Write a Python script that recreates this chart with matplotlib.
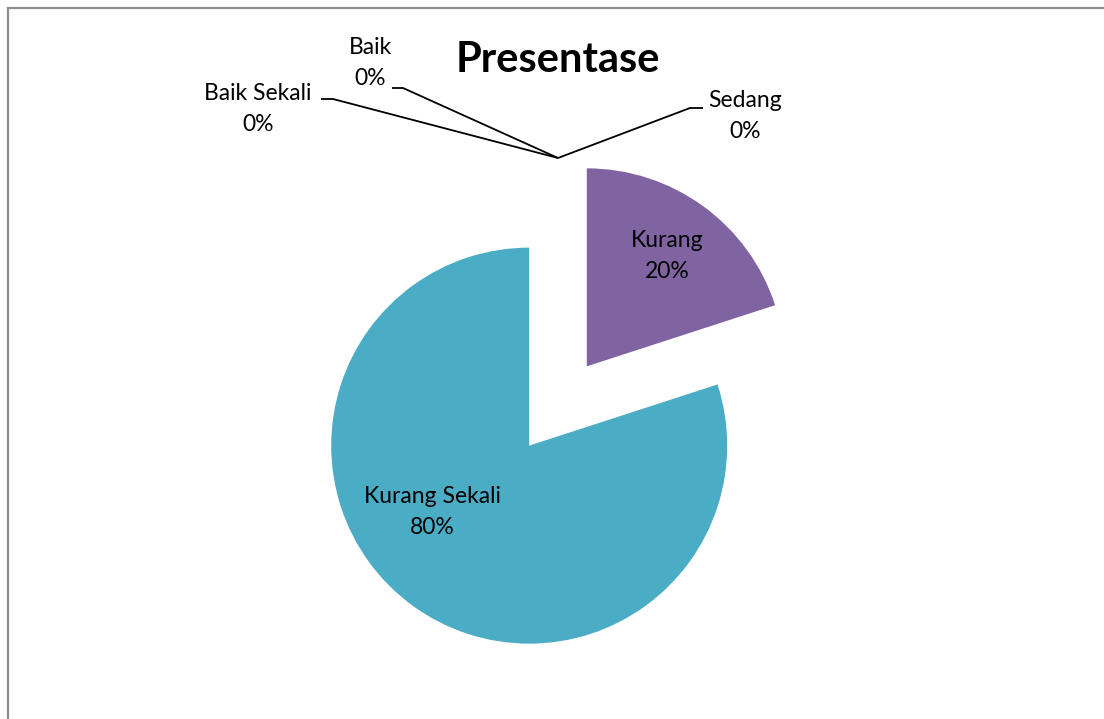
import matplotlib
matplotlib.use("Agg")
import matplotlib.pyplot as plt
from matplotlib.patches import Rectangle

# data
categories = ['Baik Sekali', 'Baik', 'Sedang', 'Kurang', 'Kurang Sekali']
values = [0, 0, 0, 20, 80]
colors = ['#4F81BD', '#C0504D', '#9BBB59', '#8064A2', '#4BACC6']

W, H = 1104, 719


def py(y):
    # pixel row (from top) -> data y
    return H - y


fig = plt.figure(figsize=(W / 100, H / 100), dpi=100)
ax = fig.add_axes([0, 0, 1, 1])

# chart border (right and bottom edges run off the picture)
fig.patches.append(Rectangle((7.5 / W, -0.05), 1.2, (H - 7.5) / H + 0.05,
                             transform=fig.transFigure, fill=False,
                             edgecolor='#8c8c8c', linewidth=1.6))

wedges, _ = ax.pie(values, colors=colors, startangle=90, counterclock=False,
                   center=(558, py(406)), radius=198, explode=[49] * 5,
                   wedgeprops=dict(linewidth=0), frame=True)
ax.set_xlim(0, W)
ax.set_ylim(0, H)
ax.set_aspect('equal')
ax.axis('off')

font = 'Lato'
fs = 16.5

ax.text(558, py(60), 'Presentase', ha='center', va='center',
        fontsize=30, fontweight='bold', family=font)

# leader lines for the empty slices
tip = (558, py(158))
leaders = [
    [(321, 99), (333, 99), tip],
    [(392, 88), (403, 88), tip],
    [tip, (690, 108), (703, 108)],
]
for pts in leaders:
    xs = [p[0] for p in pts]
    ys = [p[1] if p is tip else py(p[1]) for p in pts]
    ax.plot(xs, ys, color='black', linewidth=1.3, solid_capstyle='butt')

label_pos = {
    'Baik Sekali': (258, 109),
    'Baik': (370, 63),
    'Sedang': (745, 116),
    'Kurang': (667, 256),
    'Kurang Sekali': (432, 512),
}
for cat, val in zip(categories, values):
    x, y = label_pos[cat]
    ax.text(x, py(y), f'{cat}\n{val}%', ha='center', va='center',
            fontsize=fs, family=font, linespacing=1.6)

fig.savefig('out.png', dpi=100)
